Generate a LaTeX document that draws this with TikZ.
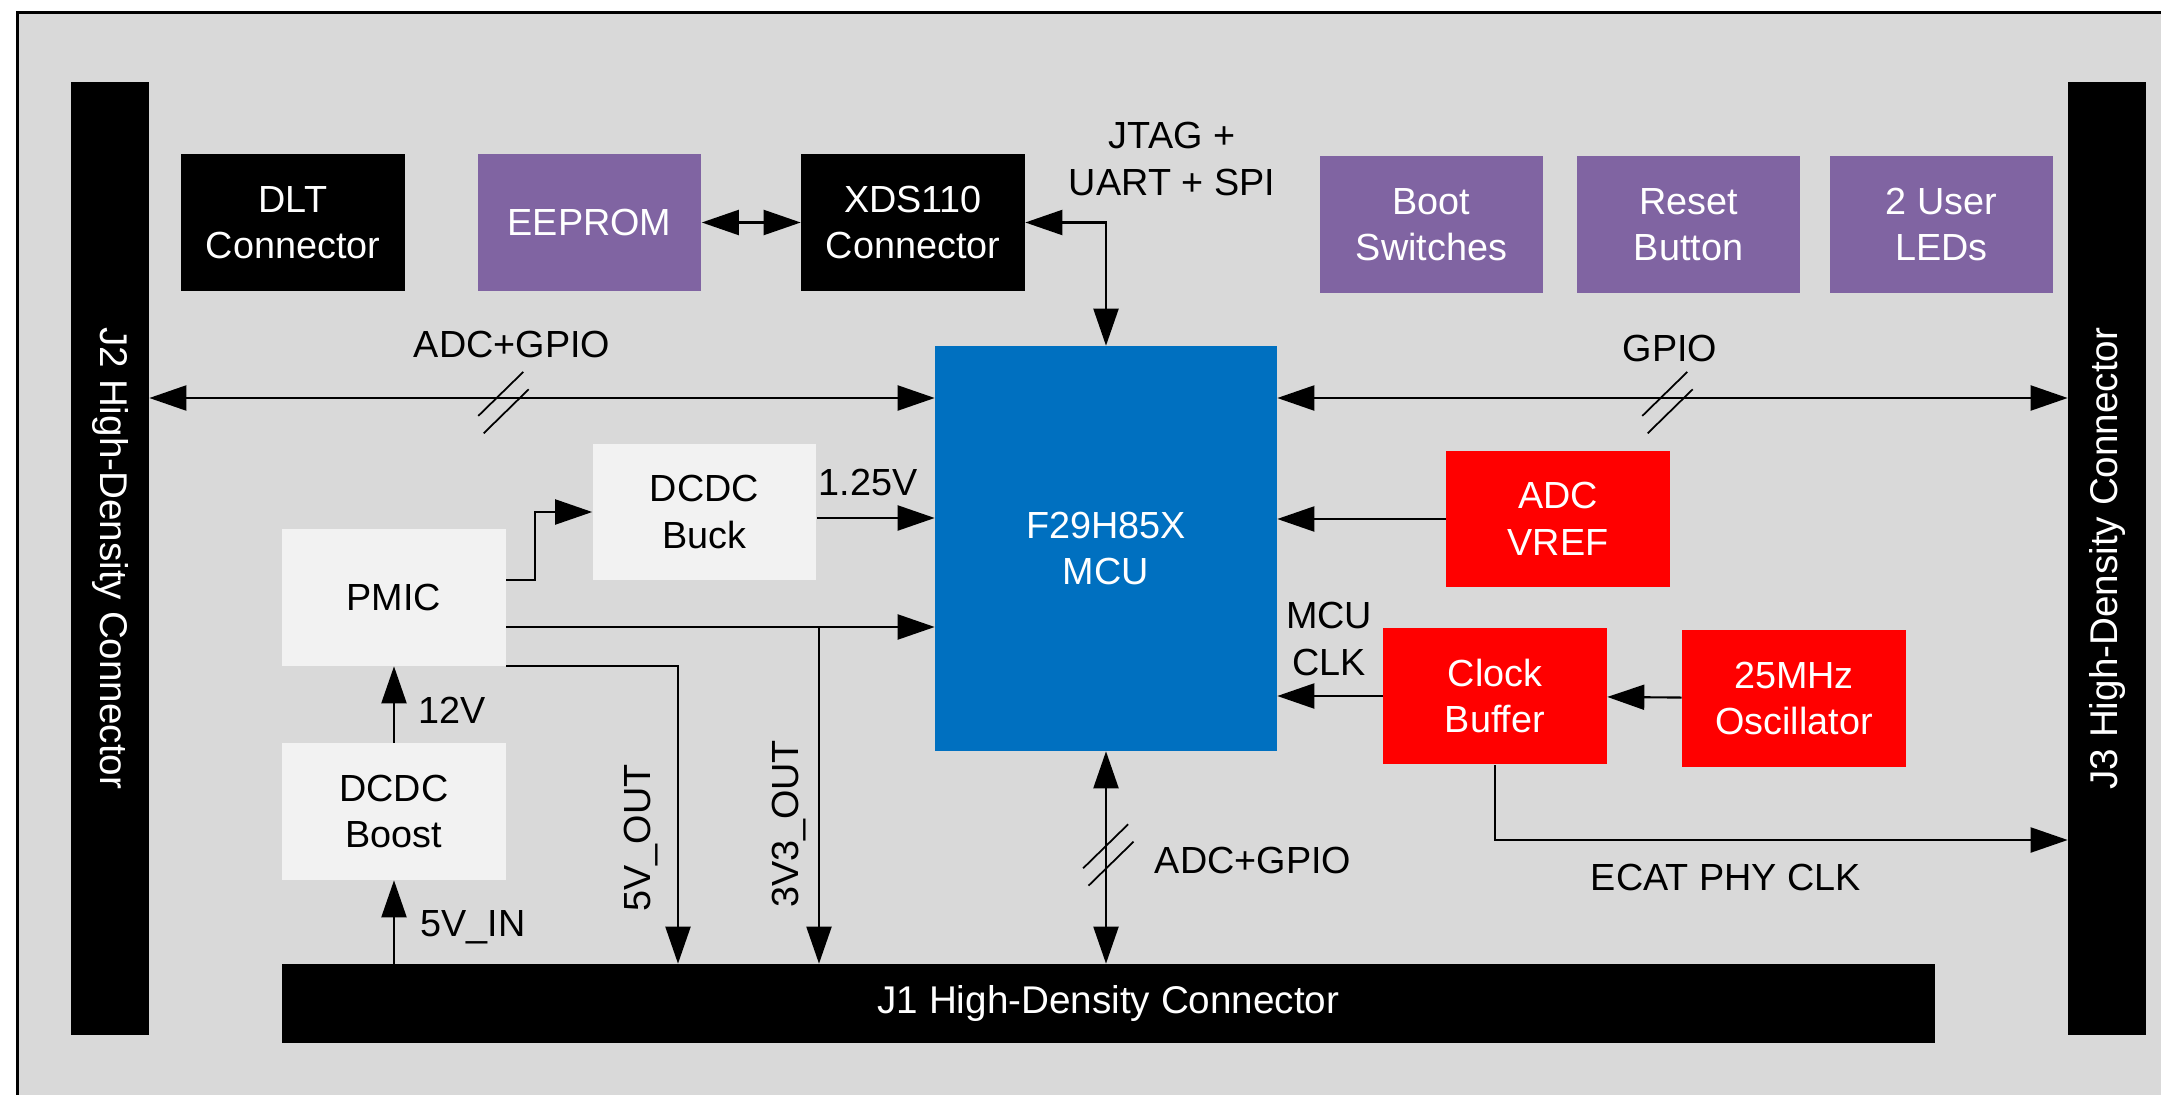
\documentclass[tikz,border=0pt]{standalone}
\usepackage{fontspec}
\setmainfont{Liberation Sans}
\usetikzlibrary{arrows.meta,calc}

\definecolor{bggray}{HTML}{D9D9D9}
\definecolor{tipurple}{HTML}{8064A2}
\definecolor{tiblue}{HTML}{0070C0}
\definecolor{tired}{HTML}{FF0000}
\definecolor{pwrgray}{HTML}{F2F2F2}

\tikzset{
  blk/.style={minimum width=4.48cm, minimum height=2.74cm, align=center, inner sep=0pt,
    font=\fontsize{21.5}{26.5}\selectfont},
  blackblk/.style={blk, fill=black, text=white},
  purpleblk/.style={blk, fill=tipurple, text=white},
  redblk/.style={blk, fill=tired, text=white},
  pwrblk/.style={blk, fill=pwrgray, text=black},
  hdconn/.style={fill=black, text=white, inner sep=0pt, font=\fontsize{22}{26}\selectfont},
  sig/.style={line width=1.2pt},
  slash/.style={line width=1pt},
  lbl/.style={font=\fontsize{21.5}{26.5}\selectfont, align=center, inner sep=0pt},
  >={Triangle[length=0.74cm,width=0.5cm]},
}

% two short strokes across a bus
\newcommand{\busslash}[1]{%
  \draw[slash] ($(#1)+(-25.2,13.3)$) -- ($(#1)+(19.8,-30.7)$);
  \draw[slash] ($(#1)+(-19.8,30.7)$) -- ($(#1)+(25.2,-13.3)$);
}

\begin{document}
\begin{tikzpicture}[x=0.02cm, y=-0.02cm]
\useasboundingbox (0,0) rectangle (2161,1095);
\clip (0,0) rectangle (2161,1095);

% Board outline
\fill[bggray] (17.5,12.5) rectangle (2200,1130);
\draw[line width=1.7pt] (2200,12.5) -- (17.5,12.5) -- (17.5,1130);

% Edge connectors
\node[hdconn, rotate=-90, minimum width=19.06cm, minimum height=1.56cm] (j2) at (110,558.5) {J2 High-Density Connector};
\node[hdconn, rotate=90, minimum width=19.06cm, minimum height=1.56cm] (j3) at (2107,558.5) {J3 High-Density Connector};
\node[hdconn, minimum width=33.06cm, minimum height=1.58cm] (j1) at (1108.5,1003.5) {J1 High-Density Connector};

% Top row
\node[blackblk] (dlt) at (293,222.5) {DLT\\Connector};
\node[purpleblk] (eeprom) at (589.5,222.5) {EEPROM};
\node[blackblk] (xds) at (913,222.5) {XDS110\\Connector};
\node[purpleblk] (boot) at (1431.5,224.5) {Boot\\Switches};
\node[purpleblk] (reset) at (1688.5,224.5) {Reset\\Button};
\node[purpleblk] (leds) at (1941.5,224.5) {2 User\\LEDs};

% MCU
\node[blk, fill=tiblue, text=white, minimum width=6.84cm, minimum height=8.1cm] (mcu) at (1106,548.5) {F29H85X\\MCU};

% Power
\node[pwrblk] (buck) at (704.5,512) {DCDC\\Buck};
\node[pwrblk] (pmic) at (394,597.5) {PMIC};
\node[pwrblk] (boost) at (394,811.5) {DCDC\\Boost};

% Reference and clocks
\node[redblk] (vref) at (1558,519) {ADC\\VREF};
\node[redblk] (clkbuf) at (1495,696) {Clock\\Buffer};
\node[redblk] (osc) at (1794,698.5) {25MHz\\Oscillator};

% Helper coordinates
\coordinate (busy) at (0,398);
\coordinate (ecaty) at (0,840);
\coordinate (v5) at (678,0);
\coordinate (v33) at (819,0);
\coordinate (p33) at ([yshift=-0.59cm]pmic.east);
\coordinate (bout) at ([yshift=-0.12cm]buck.east);

% Debug connections
\draw[sig,<->] (eeprom) -- (xds);
\draw[sig,<->] (xds.east) -| (mcu.north);
\node[lbl] (jtaglbl) at (1172,159) {JTAG +\\UART + SPI};

% Buses to the edge connectors
\draw[sig,<->] (j2.north |- busy) -- (mcu.west |- busy);
\draw[sig,<->] (mcu.east |- busy) -- (j3.north |- busy);
\draw[sig,<->] (mcu.south) -- (mcu.south |- j1.north);
\busslash{503.5,402.6}
\busslash{1667.5,402.6}
\busslash{1108.3,855}
\node[lbl] (adcgpiol) at (512,344) {ADC+GPIO};
\node[lbl] (gpiol) at (1670,348) {GPIO};
\node[lbl] (adcgpiob) at (1253,860) {ADC+GPIO};

% Power rails
\draw[sig,->] ([yshift=0.35cm]pmic.east) -- ++(29,0) |- (buck.west);
\draw[sig,->] (bout) -- (bout -| mcu.west);
\draw[sig,->] (p33) -- (p33 -| mcu.west);
\draw[sig,->] (v33 |- p33) -- (v33 |- j1.north);
\draw[sig,->] (pmic.south east) -| (v5 |- j1.north);
\draw[sig,->] (boost) -- (pmic);
\draw[sig,->] (j1.north -| boost.south) -- (boost.south);
\node[lbl] (v125) at (868,482) {1.25V};
\node[lbl] (v12) at (452,710) {12V};
\node[lbl] (v5in) at (473,927) {5V\_IN};
\node[lbl, rotate=90] (v5out) at (641,838) {5V\_OUT};
\node[lbl, rotate=90] (v33out) at (789,824) {3V3\_OUT};

% Reference and clock paths
\draw[sig,->] (vref.west) -- (mcu.east |- vref.west);
\draw[sig,->] (clkbuf.west) -- (mcu.east |- clkbuf.west);
\draw[sig,->] (osc) -- (clkbuf);
\draw[sig,->] (clkbuf.south) |- (j3.north |- ecaty);
\node[lbl] (mcuclk) at (1329,639) {MCU\\CLK};
\node[lbl] (ecatlbl) at (1726,877) {ECAT PHY CLK};
\end{tikzpicture}
\end{document}
